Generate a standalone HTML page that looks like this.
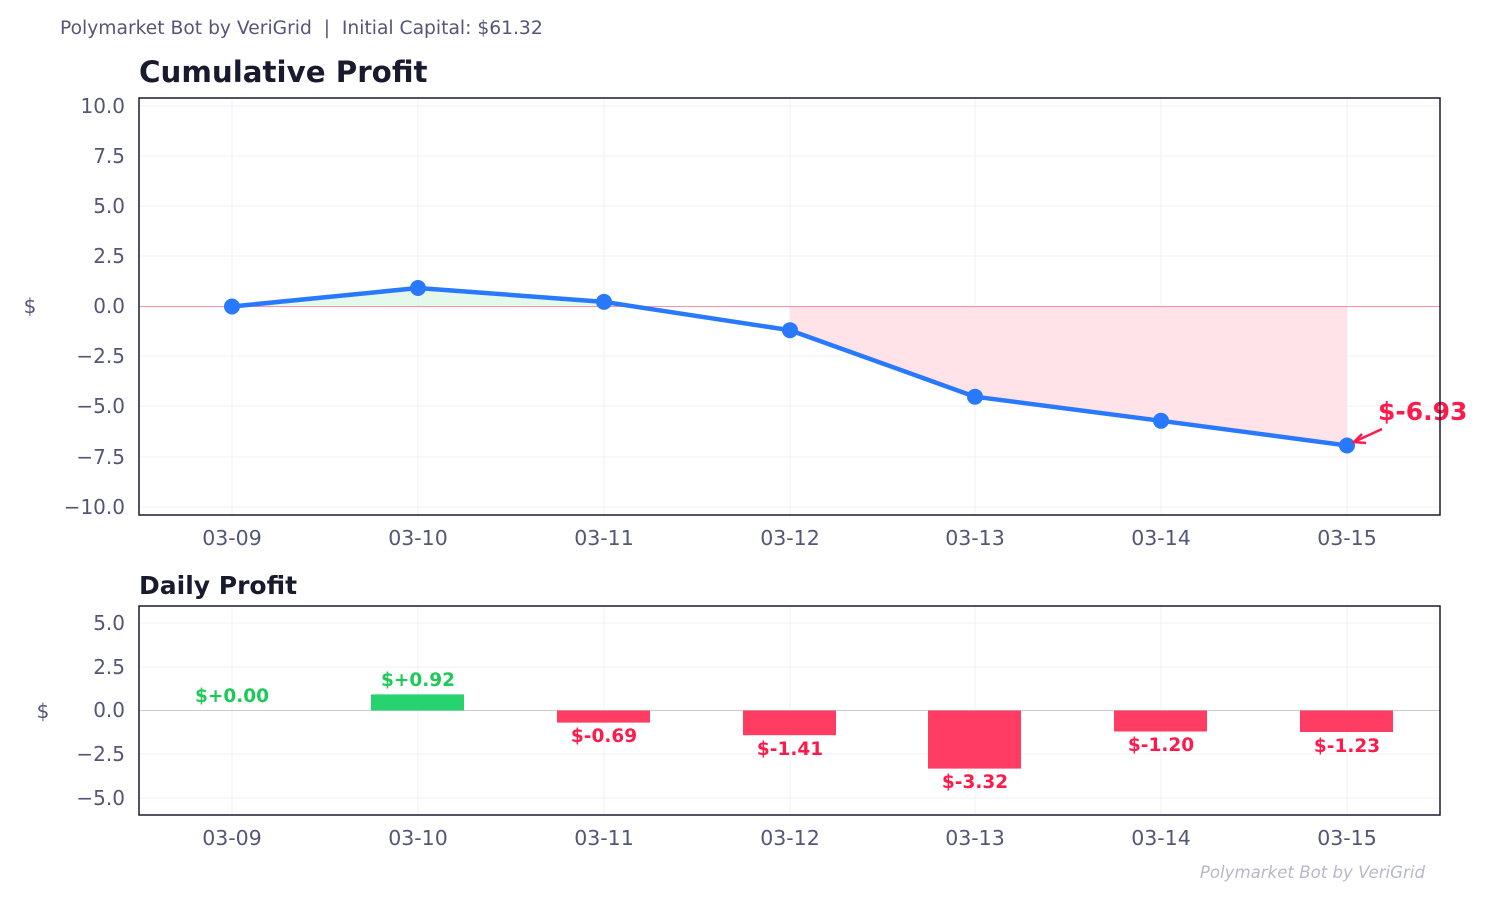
<!DOCTYPE html>
<html><head><meta charset="utf-8"><style>
body{margin:0;background:#fff;}
svg text{font-family:"DejaVu Sans","Liberation Sans",sans-serif;}
</style></head><body>
<svg width="1500" height="900" xmlns="http://www.w3.org/2000/svg">
<rect width="1500" height="900" fill="#fff"/>
<text x="60" y="34" font-size="18.7" fill="#555577">Polymarket Bot by VeriGrid&#160;&#160;|&#160;&#160;Initial Capital: $61.32</text>
<text x="139" y="82" font-size="29.3" font-weight="bold" fill="#1a1a2e">Cumulative Profit</text>
<g stroke="#f0f0f4" stroke-width="1">
<line x1="139" x2="1440" y1="106" y2="106"/><line x1="139" x2="1440" y1="156" y2="156"/><line x1="139" x2="1440" y1="206" y2="206"/><line x1="139" x2="1440" y1="256" y2="256"/><line x1="139" x2="1440" y1="356" y2="356"/><line x1="139" x2="1440" y1="406" y2="406"/><line x1="139" x2="1440" y1="457" y2="457"/><line x1="139" x2="1440" y1="507" y2="507"/>
<line y1="98" y2="515" x1="232" x2="232"/><line y1="98" y2="515" x1="418" x2="418"/><line y1="98" y2="515" x1="604" x2="604"/><line y1="98" y2="515" x1="790" x2="790"/><line y1="98" y2="515" x1="975" x2="975"/><line y1="98" y2="515" x1="1161" x2="1161"/><line y1="98" y2="515" x1="1347" x2="1347"/>
</g>
<polygon points="232,306.5 418,288 604,301.9 604,306.5" fill="#d8f5e3" opacity="0.7"/>
<polygon points="790,306.5 790,330.2 975,396.7 1161,420.8 1347,445.5 1347,306.5" fill="#ffe3e8"/>
<line x1="139" x2="1440" y1="306.5" y2="306.5" stroke="#ff8fa3" stroke-width="1"/>
<polyline points="232,306.5 418,288 604,301.9 790,330.2 975,396.7 1161,420.8 1347,445.5" fill="none" stroke="#2979ff" stroke-width="4.5" stroke-linejoin="round"/>
<g fill="#2979ff"><circle cx="232" cy="306.5" r="8"/><circle cx="418" cy="288" r="8"/><circle cx="604" cy="301.9" r="8"/><circle cx="790" cy="330.2" r="8"/><circle cx="975" cy="396.7" r="8"/><circle cx="1161" cy="420.8" r="8"/><circle cx="1347" cy="445.5" r="8"/></g>
<line x1="1382" y1="429" x2="1356" y2="441" stroke="#ff1a4b" stroke-width="2.5"/>
<polyline points="1362,434 1354,442 1366,443" fill="none" stroke="#ff1a4b" stroke-width="2.5"/>
<text x="1378" y="420" font-size="25" font-weight="bold" fill="#ff1a4b">$-6.93</text>
<rect x="139" y="98" width="1301" height="417" fill="none" stroke="#1a1a2e" stroke-width="1.5"/>
<g font-size="20" fill="#555577" text-anchor="end">
<text x="125" y="113">10.0</text><text x="125" y="163">7.5</text><text x="125" y="213">5.0</text><text x="125" y="263">2.5</text><text x="125" y="313">0.0</text><text x="125" y="363">−2.5</text><text x="125" y="413">−5.0</text><text x="125" y="464">−7.5</text><text x="125" y="514">−10.0</text>
</g>
<text x="30" y="313" font-size="20" fill="#555577" text-anchor="middle">$</text>
<g font-size="20.5" fill="#555577" text-anchor="middle">
<text x="232" y="545">03-09</text><text x="418" y="545">03-10</text><text x="604" y="545">03-11</text><text x="790" y="545">03-12</text><text x="975" y="545">03-13</text><text x="1161" y="545">03-14</text><text x="1347" y="545">03-15</text>
</g>
<text x="139" y="594" font-size="25" font-weight="bold" fill="#1a1a2e">Daily Profit</text>
<g stroke="#f0f0f4" stroke-width="1">
<line x1="139" x2="1440" y1="623" y2="623"/><line x1="139" x2="1440" y1="667" y2="667"/><line x1="139" x2="1440" y1="754" y2="754"/><line x1="139" x2="1440" y1="798" y2="798"/>
<line y1="606" y2="815" x1="232" x2="232"/><line y1="606" y2="815" x1="418" x2="418"/><line y1="606" y2="815" x1="604" x2="604"/><line y1="606" y2="815" x1="790" x2="790"/><line y1="606" y2="815" x1="975" x2="975"/><line y1="606" y2="815" x1="1161" x2="1161"/><line y1="606" y2="815" x1="1347" x2="1347"/>
</g>
<line x1="139" x2="1440" y1="710.5" y2="710.5" stroke="#cccccc" stroke-width="1"/>
<rect x="371" y="694.4" width="93" height="16.1" fill="#27d36f"/>
<g fill="#ff3d63">
<rect x="557" y="710.5" width="93" height="12.1"/>
<rect x="743" y="710.5" width="93" height="24.7"/>
<rect x="928" y="710.5" width="93" height="58.1"/>
<rect x="1114" y="710.5" width="93" height="21"/>
<rect x="1300" y="710.5" width="93" height="21.5"/>
</g>
<g font-size="18.5" font-weight="bold" text-anchor="middle">
<text x="232" y="702" fill="#1ec95a">$+0.00</text>
<text x="418" y="686" fill="#1ec95a">$+0.92</text>
<text x="604" y="742" fill="#ff1a4b">$-0.69</text>
<text x="790" y="755" fill="#ff1a4b">$-1.41</text>
<text x="975" y="788" fill="#ff1a4b">$-3.32</text>
<text x="1161" y="751" fill="#ff1a4b">$-1.20</text>
<text x="1347" y="752" fill="#ff1a4b">$-1.23</text>
</g>
<rect x="139" y="606" width="1301" height="209" fill="none" stroke="#1a1a2e" stroke-width="1.5"/>
<g font-size="20" fill="#555577" text-anchor="end">
<text x="125" y="630">5.0</text><text x="125" y="674">2.5</text><text x="125" y="717">0.0</text><text x="125" y="761">−2.5</text><text x="125" y="805">−5.0</text>
</g>
<text x="43" y="718" font-size="20" fill="#555577" text-anchor="middle">$</text>
<g font-size="20.5" fill="#555577" text-anchor="middle">
<text x="232" y="845">03-09</text><text x="418" y="845">03-10</text><text x="604" y="845">03-11</text><text x="790" y="845">03-12</text><text x="975" y="845">03-13</text><text x="1161" y="845">03-14</text><text x="1347" y="845">03-15</text>
</g>
<text x="1425" y="878" font-size="16.6" font-style="italic" fill="#b8b8c8" text-anchor="end">Polymarket Bot by VeriGrid</text>
</svg>
</body></html>
